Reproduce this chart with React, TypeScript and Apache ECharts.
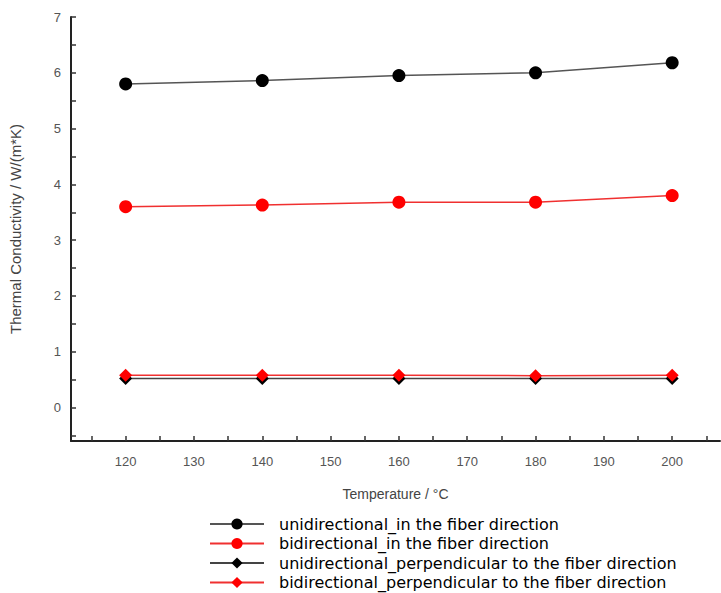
import React, { useEffect, useRef } from "react";
import * as echarts from "echarts";

const temperatures = [120, 140, 160, 180, 200];
const uniIn = [5.8, 5.86, 5.95, 6.0, 6.18];
const biIn = [3.6, 3.63, 3.68, 3.68, 3.8];
const uniPerp = [0.52, 0.52, 0.52, 0.52, 0.52];
const biPerp = [0.58, 0.58, 0.58, 0.57, 0.58];
const xLabels = [120, 130, 140, 150, 160, 170, 180, 190, 200];
const xTicks = [115, 120, 125, 130, 135, 140, 145, 150, 155, 160, 165, 170, 175, 180, 185, 190, 195, 200, 205];
const yLabels = [0, 1, 2, 3, 4, 5, 6, 7];
const yTicks = [-0.5, 0, 0.5, 1, 1.5, 2, 2.5, 3, 3.5, 4, 4.5, 5, 5.5, 6, 6.5, 7];
const seriesNames = [
  "unidirectional_in the fiber direction",
  "bidirectional_in the fiber direction",
  "unidirectional_perpendicular to the fiber direction",
  "bidirectional_perpendicular to the fiber direction",
];

const pts = (v: number[]) => temperatures.map((t, i) => [t, v[i]]);

export default function App() {
  const ref = useRef<HTMLDivElement>(null);
  useEffect(() => {
    if (!ref.current) return;
    const chart = echarts.init(ref.current, undefined, { renderer: "svg" });
    const axisFont = { fontFamily: "Liberation Sans", color: "#555", fontSize: 13 };
    const mk = (name: string, data: number[], color: string, line: string, symbol: string, size: number, z: number) => ({
      name,
      type: "line",
      data: pts(data),
      symbol,
      symbolSize: size,
      z,
      itemStyle: { color },
      lineStyle: { color: line, width: 1.5 },
    });
    chart.setOption({
      animation: false,
      backgroundColor: "#fff",
      grid: { left: 70, right: 1, top: 17, bottom: 152 },
      xAxis: {
        type: "value",
        min: 112,
        max: 207,
        name: "Temperature / °C",
        nameLocation: "middle",
        nameGap: 46,
        nameTextStyle: { fontFamily: "Liberation Sans", fontSize: 14, color: "#444" },
        axisLine: { onZero: false, lineStyle: { color: "#222", width: 2 } },
        axisTick: { inside: true, length: 5, customValues: xTicks, lineStyle: { color: "#333", width: 1.5 } },
        axisLabel: { ...axisFont, margin: 14, customValues: xLabels },
        splitLine: { show: false },
      },
      yAxis: {
        type: "value",
        min: -0.6,
        max: 7,
        name: "Thermal Conductivity / W/(m*K)",
        nameLocation: "middle",
        nameGap: 48,
        nameTextStyle: { fontFamily: "Liberation Sans", fontSize: 15, color: "#444" },
        axisLine: { show: true, onZero: false, lineStyle: { color: "#222", width: 2 } },
        axisTick: { show: true, inside: true, length: 5, customValues: yTicks, lineStyle: { color: "#333", width: 1.5 } },
        axisLabel: { ...axisFont, margin: 10, customValues: yLabels },
        splitLine: { show: false },
      },
      legend: {
        orient: "vertical",
        left: 209,
        top: 515,
        height: 80,
        padding: 0,
        itemWidth: 54,
        itemHeight: 14,
        itemGap: 1.5,
        data: seriesNames,
        textStyle: { fontFamily: "DejaVu Sans", fontSize: 16, lineHeight: 18, color: "#000", padding: [0, 0, 0, 10] },
      },
      series: [
        mk(seriesNames[0], uniIn, "#000", "#555", "circle", 13, 3),
        mk(seriesNames[1], biIn, "#ff0000", "#f03030", "circle", 13, 3),
        mk(seriesNames[2], uniPerp, "#000", "#444", "diamond", 13, 2),
        mk(seriesNames[3], biPerp, "#ff0000", "#f03030", "diamond", 13, 4),
      ],
    });
    return () => chart.dispose();
  }, []);
  return <div ref={ref} style={{ width: 721, height: 593, position: "absolute", left: 0, top: 0 }} />;
}
